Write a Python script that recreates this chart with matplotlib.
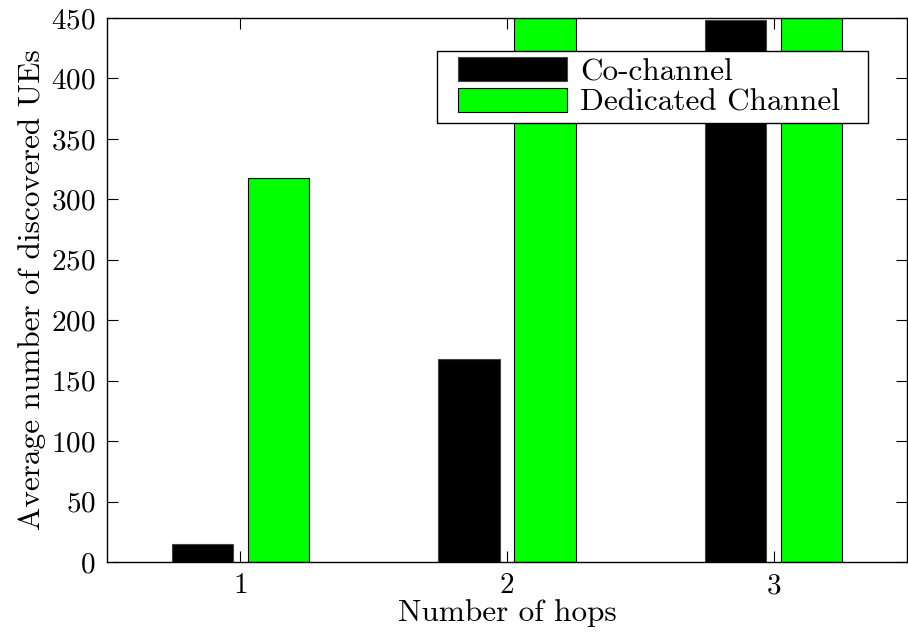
import numpy as np
import matplotlib
matplotlib.use("Agg")
import matplotlib.pyplot as plt
from matplotlib.path import Path

# values (green bars at 2 and 3 hops run past the axis top)
hops = [1, 2, 3]
co_channel = [15, 168, 448]
dedicated = [318, 480, 490]
yticks = [0, 50, 100, 150, 200, 250, 300, 350, 400, 450]

plt.rcParams['font.family'] = ['cmr10', 'DejaVu Serif']
plt.rcParams['axes.formatter.use_mathtext'] = True
plt.rcParams['font.size'] = 21


def wide_box(x0, y0, width, height, mutation_size):
    # legend frame with more room left/right than top/bottom (MATLAB look)
    left = 0.48 * mutation_size
    right = 0.71 * mutation_size
    xa, xb = x0 - left, x0 + width + right
    ya, yb = y0, y0 + height
    return Path([(xa, ya), (xb, ya), (xb, yb), (xa, yb), (xa, ya)],
                [Path.MOVETO, Path.LINETO, Path.LINETO, Path.LINETO,
                 Path.CLOSEPOLY])


fig = plt.figure(figsize=(9.08, 6.39), dpi=100)
ax = fig.add_axes([107 / 908, 77 / 639, 800 / 908, 544 / 639])

x = np.array(hops)
w = 0.23
off = 0.143
ax.bar(x - off, co_channel, w, color='black', edgecolor='#444444',
       linewidth=0.8, label='Co-channel')
ax.bar(x + off, dedicated, w, color='#00ff00', edgecolor='black',
       linewidth=0.8, label='Dedicated Channel')

ax.set_xlim(0.5, 3.5)
ax.set_ylim(0, 450)
ax.set_xticks(hops)
ax.set_yticks(yticks)
ax.tick_params(direction='in', length=8, width=0.8, top=True, right=True,
               labelsize=21, pad=8)
for s in ax.spines.values():
    s.set_linewidth(1.0)

ax.set_xlabel('Number of hops', fontsize=22.5, labelpad=0)
ax.set_ylabel('Average number of discovered UEs', fontsize=22.5, labelpad=4)

leg = ax.legend(loc='upper right', bbox_to_anchor=(0.924, 0.939),
                borderaxespad=0, fancybox=False, framealpha=1,
                edgecolor='black', handlelength=3.5, handleheight=0.8,
                handletextpad=0.4, borderpad=0.2, labelspacing=0.05,
                fontsize=22.5)
leg.get_frame().set_boxstyle(wide_box)
leg.get_frame().set_linewidth(1.0)

fig.savefig('out.png', dpi=100)
